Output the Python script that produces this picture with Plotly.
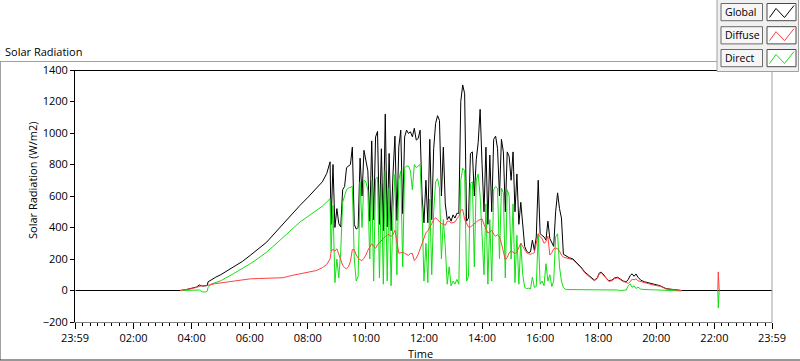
import plotly.graph_objects as go

# ---------------- data (minutes after midnight, W/m2) ----------------
morning_t = [0, 216, 228, 240, 250, 256, 262, 268, 272, 274, 280, 290, 300, 326, 345,
             361, 378, 395, 412, 429, 446, 464, 481, 498, 510, 519, 526]
morning_global = [0, 0, 5, 14, 22, 35, 28, 30, 32, 55, 68, 85, 100, 148, 185,
                  223, 265, 307, 365, 424, 483, 541, 594, 647, 690, 742, 817]
morning_diffuse = [None, 0, 5, 12, 20, 28, 32, 28, 30, 34, 38, 44, 48, 62, 68,
                   74, 76, 78, 80, 81, 95, 106, 115, 127, 145, 165, 200]
morning_direct = [None, 0, 2, 3, 5, 3, -8, -10, -5, 20, 40, 50, 62, 106, 138,
                  170, 205, 244, 290, 339, 387, 435, 472, 509, 535, 562, 583]

# 08:48 .. 17:00, sampled every 4 minutes
day_t = list(range(528, 1021, 4))
day_global = [420, 800, 400, 520, 424, 403, 640, 660, 780, 790,
              800, 910, 420, 390, 400, 840, 600, 890, 820, 760,
              440, 950, 450, 975, 1010, 420, 900, 380, 1120, 403,
              870, 380, 740, 980, 445, 912, 1018, 488, 975, 1018,
              997, 1008, 976, 1030, 955, 965, 1018, 600, 430, 700,
              430, 960, 450, 900, 1060, 1110, 1080, 600, 910, 550,
              450, 470, 440, 480, 460, 490, 490, 1200, 1305, 1250,
              440, 460, 870, 880, 600, 830, 940, 1150, 800, 500,
              910, 420, 860, 500, 960, 980, 900, 600, 960, 880,
              500, 880, 850, 700, 880, 500, 740, 420, 560, 420,
              280, 250, 240, 245, 320, 255, 340, 700, 360, 350,
              340, 320, 440, 330, 300, 280, 500, 620, 520, 460,
              230, 223, 212, 208]
day_diffuse = [245, 262, 250, 265, 230, 190, 160, 145, 138, 150,
               185, 260, 260, 225, 205, 195, 190, 205, 225, 255,
               280, 297, 280, 268, 290, 305, 315, 330, 342, 352,
               355, 342, 355, 383, 310, 236, 240, 242, 236, 230,
               223, 235, 235, 190, 205, 230, 265, 300, 340, 366,
               380, 400, 424, 450, 462, 450, 435, 425, 420, 414,
               440, 440, 428, 430, 435, 455, 470, 510, 515, 450,
               425, 403, 403, 412, 422, 435, 445, 450, 455, 420,
               390, 365, 370, 383, 355, 345, 355, 340, 300, 240,
               195, 210, 238, 252, 245, 234, 245, 270, 300, 280,
               262, 240, 233, 230, 235, 240, 300, 360, 340, 330,
               300, 310, 345, 225, 240, 265, 270, 265, 250, 225,
               212, 208, 202, 198]
day_direct = [250, 540, 50, 200, 80, 250, 560, 600, 640, 650,
              655, 660, 200, 60, 90, 690, 400, 700, 690, 640,
              200, 700, 60, 710, 720, 80, 680, 40, 760, 60,
              650, 30, 500, 740, 100, 700, 760, 150, 780, 790,
              790, 760, 640, 800, 780, 790, 800, 500, 60, 300,
              50, 580, 100, 500, 690, 710, 650, 200, 450, 280,
              40, 150, 30, 60, 40, 70, 40, 700, 776, 760,
              60, 90, 680, 690, 150, 700, 740, 600, 300, 100,
              550, 40, 450, 60, 640, 660, 650, 200, 650, 620,
              80, 640, 600, 200, 550, 50, 350, 40, 300, 100,
              20, 12, 15, 10, 85, 20, 25, 360, 40, 60,
              30, 170, 60, 100, 25, 60, 340, 360, 150, 60,
              20, 8, 6, 6]

evening_t = [1028, 1036, 1044, 1052, 1060, 1066, 1072, 1078, 1082, 1086, 1090, 1096,
             1102, 1108, 1114, 1120, 1126, 1132, 1138, 1142, 1146, 1150, 1154, 1158,
             1162, 1168, 1176, 1186, 1196, 1208, 1220, 1232, 1244, 1252]
evening_global = [200, 175, 150, 118, 95, 80, 66, 80, 110, 117, 105, 80,
                  62, 66, 80, 84, 70, 60, 55, 70, 95, 106, 90, 105,
                  85, 65, 55, 47, 35, 30, 12, 8, 2, 0]
evening_diffuse = [195, 170, 145, 113, 90, 76, 62, 76, 105, 112, 100, 76,
                   58, 62, 76, 80, 66, 56, 52, 45, 55, 72, 68, 74,
                   62, 56, 50, 42, 33, 27, 10, 6, 1, 0]
evening_direct = [6, 5, 5, 5, 5, 5, 4, 4, 4, 5, 4, 4,
                  4, 4, 4, 3, 0, 2, 3, 30, 42, 20, 30, 12,
                  22, 8, 5, 5, 4, 3, 0, 0, -3, -3]

night_t = [1326, 1327, 1328, 1329, 1330, 1439]
night_global = [0, 0, 0, 0, 0, 0]
night_diffuse = [None, 0, 118, 57, 0, None]
night_direct = [None, 0, -110, -50, 0, None]

tick_vals = [-1, 120, 240, 360, 480, 600, 720, 840, 960, 1080, 1200, 1320, 1439]
tick_text = ["23:59", "02:00", "04:00", "06:00", "08:00", "10:00", "12:00",
             "14:00", "16:00", "18:00", "20:00", "22:00", "23:59"]
y_ticks = [-200, 0, 200, 400, 600, 800, 1000, 1200, 1400]
series_names = ["Global", "Diffuse", "Direct"]
series_colors = ["#000000", "#ff4040", "#10e010"]

times = morning_t + day_t + evening_t + night_t
global_v = morning_global + day_global + evening_global + night_global
diffuse_v = morning_diffuse + day_diffuse + evening_diffuse + night_diffuse
direct_v = morning_direct + day_direct + evening_direct + night_direct

# ---------------- layout geometry (pixels) ----------------
W, H = 800, 361
L, R, T, B = 75, 772, 70, 322


def px(x):
    return (x - L) / (R - L)


def py(y):
    return (B - y) / (B - T)


FONT = "Open Sans"

fig = go.Figure()
# draw order: Global, Direct, Diffuse
for name, vals, col in [("Global", global_v, series_colors[0]),
                        ("Direct", direct_v, series_colors[2]),
                        ("Diffuse", diffuse_v, series_colors[1])]:
    fig.add_trace(go.Scatter(x=times, y=vals, mode="lines", name=name,
                             line=dict(color=col, width=1), connectgaps=False,
                             showlegend=False, hoverinfo="skip"))

minor_vals = [m for m in range(15, 1439, 15) if m % 120 != 0]

fig.update_layout(
    width=W, height=H,
    margin=dict(l=L, r=W - R, t=T, b=H - B, pad=0),
    paper_bgcolor="white", plot_bgcolor="white",
    font=dict(family=FONT, size=11, color="#000000"),
    showlegend=False,
    xaxis=dict(range=[-1, 1439], tickmode="array", tickvals=tick_vals, ticktext=tick_text,
               ticks="outside", ticklen=6, tickwidth=1, tickcolor="#000000",
               showline=True, linecolor="#808080", linewidth=1,
               showgrid=False, zeroline=False, fixedrange=True,
               tickfont=dict(family=FONT, size=11, color="#000000"),
               minor=dict(tickmode="array", tickvals=minor_vals, ticks="outside",
                          ticklen=3, tickwidth=1, tickcolor="#000000", showgrid=False)),
    yaxis=dict(range=[-200, 1400], tickmode="array", tickvals=y_ticks,
               ticks="outside", ticklen=4, tickwidth=1, tickcolor="#000000",
               showline=True, linecolor="#000000", linewidth=1,
               showgrid=False, zeroline=False, fixedrange=True,
               tickfont=dict(family=FONT, size=11, color="#000000")),
)

shapes = []


def line(x0, y0, x1, y1, color, width=1):
    shapes.append(dict(type="line", xref="paper", yref="paper",
                       x0=px(x0), y0=py(y0), x1=px(x1), y1=py(y1),
                       line=dict(color=color, width=width)))


def rect(x0, y0, x1, y1, fill, color, width=1):
    shapes.append(dict(type="rect", xref="paper", yref="paper",
                       x0=px(x0), y0=py(y0), x1=px(x1), y1=py(y1),
                       fillcolor=fill, line=dict(color=color, width=width)))


# outer frame
line(0, 61.5, 717, 61.5, "#a0a0a0")
line(0.5, 61.5, 0.5, 360, "#a0a0a0")
line(0, 360, 800, 360, "#303030")
# plot area border (top & right)
line(L, 70.5, R, 70.5, "#000000")
line(R, 70.5, R, B, "#a0a0a0")

# legend panel
rect(717, -2, 798.5, 71.5, "#f0f0f0", "#a0a0a0")
annotations = []
row_tops = [3.5, 26.7, 49.5]
for top, name, col in zip(row_tops, series_names, series_colors):
    rect(721, top, 762.5, top + 17.2, "#f6f6f6", "#6a6a6a")
    rect(767, top, 796, top + 17.2, "#ffffff", "#4a4a4a")
    pts = [(769.5, top + 14), (776, top + 5), (784.5, top + 14), (794, top + 2)]
    path = "M " + " L ".join(f"{px(a)},{py(b)}" for a, b in pts)
    shapes.append(dict(type="path", xref="paper", yref="paper", path=path,
                       line=dict(color=col, width=1)))
    annotations.append(dict(xref="paper", yref="paper", x=px(722.5), y=py(top + 8.6),
                            xanchor="left", yanchor="middle", showarrow=False,
                            text=name, font=dict(family=FONT, size=10.5, color="#000000")))

annotations += [
    dict(xref="paper", yref="paper", x=px(3), y=py(51), xanchor="left", yanchor="middle",
         showarrow=False, text="Solar Radiation",
         font=dict(family=FONT, size=11, color="#000000")),
    dict(xref="paper", yref="paper", x=px(32), y=py(181), xanchor="center", yanchor="middle",
         showarrow=False, text="Solar Radiation (W/m2)", textangle=-90,
         font=dict(family=FONT, size=11, color="#000000")),
    dict(xref="paper", yref="paper", x=px(420), y=py(353), xanchor="center", yanchor="middle",
         showarrow=False, text="Time",
         font=dict(family=FONT, size=11, color="#000000")),
]

fig.update_layout(shapes=shapes, annotations=annotations)
fig.write_html("out.html",
               config={"displayModeBar": False, "staticPlot": True},
               post_script="document.body.style.margin='0';document.body.style.padding='0';"
                           "document.body.style.overflow='hidden';")
